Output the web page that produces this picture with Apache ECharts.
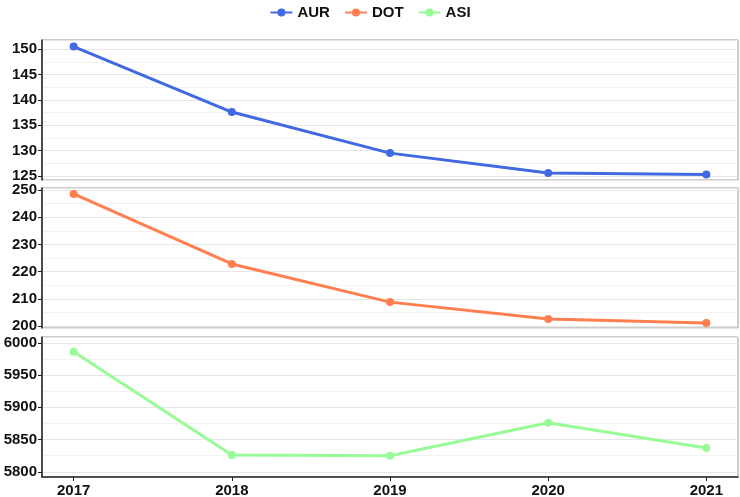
<!DOCTYPE html>
<html lang="en">
<head>
    <meta charset="UTF-8">
    <title>AUR DOT ASI</title>
    <script src="https://cdn.jsdelivr.net/npm/echarts@6/dist/echarts.min.js"></script>
</head>
<body style="margin:0;">
    <div id="graph" style="width: 740px; height: 497px;"></div>

    <script>
        var years = [2017, 2018, 2019, 2020, 2021];
        var aur = [150.5, 137.6, 129.5, 125.6, 125.3];
        var dot = [248.5, 222.8, 208.8, 202.6, 201.1];
        var asi = [5986, 5826, 5825, 5876, 5837];

        var names = ['AUR', 'DOT', 'ASI'];
        var colors = ['#4169E1', '#FF7F50', '#98FB98'];
        var values = [aur, dot, asi];
        var yMin = [124.2, 199.3, 5792];
        var yMax = [151.8, 250.7, 6009];
        var tops = [40, 188, 337];

        var labelFont = {color: '#111', fontWeight: 'bold', fontSize: 15, fontFamily: 'Liberation Sans, Arial'};

        var grids = [], xs = [], ys = [], s = [];
        for (var i = 0; i < 3; i++) {
            grids.push({left: 42, top: tops[i], width: 696, height: 140, show: true,
                outerBoundsMode: 'none', containLabel: false,
                borderColor: '#9a9a9a', borderWidth: 1});
            var last = (i == 2);
            xs.push({
                type: 'value', gridIndex: i, min: 2016.8, max: 2021.2,
                axisLine: {show: last, lineStyle: {color: '#222', width: 1.5}},
                axisTick: {show: last, length: 4, customValues: years, lineStyle: {color: '#222'}},
                axisLabel: Object.assign({show: last, margin: 6, customValues: years,
                    formatter: function (v) { return String(v); }}, labelFont),
                splitLine: {show: false}
            });
            ys.push({
                type: 'value', gridIndex: i, min: yMin[i], max: yMax[i], splitNumber: 5,
                axisLine: {show: true, lineStyle: {color: '#222', width: 1.5}},
                axisTick: {show: true, length: 4, lineStyle: {color: '#222'}},
                axisLabel: Object.assign({margin: 5, showMinLabel: false, showMaxLabel: false,
                    formatter: function (v) { return String(v); }}, labelFont),
                splitLine: {show: true, lineStyle: {color: '#e6e6e6', width: 1}},
                minorTick: {show: false, splitNumber: 2},
                minorSplitLine: {show: true, lineStyle: {color: '#f2f2f2', width: 1}}
            });
            var d = [];
            for (var j = 0; j < years.length; j++) d.push([years[j], values[i][j]]);
            s.push({
                name: names[i], type: 'line', xAxisIndex: i, yAxisIndex: i, data: d,
                symbol: 'circle', symbolSize: 8, color: colors[i],
                lineStyle: {width: 3}, itemStyle: {color: colors[i]}
            });
        }

        var myChart = echarts.init(document.getElementById('graph'));
        var option = {
            animation: false,
            backgroundColor: '#fff',
            legend: {
                data: names, top: 0, left: 'center', itemWidth: 22, itemHeight: 10, itemGap: 14,
                textStyle: {color: '#111', fontWeight: 'bold', fontSize: 15, fontFamily: 'Liberation Sans, Arial'}
            },
            grid: grids,
            xAxis: xs,
            yAxis: ys,
            series: s
        };
        myChart.setOption(option);
    </script>
</body>
</html>
